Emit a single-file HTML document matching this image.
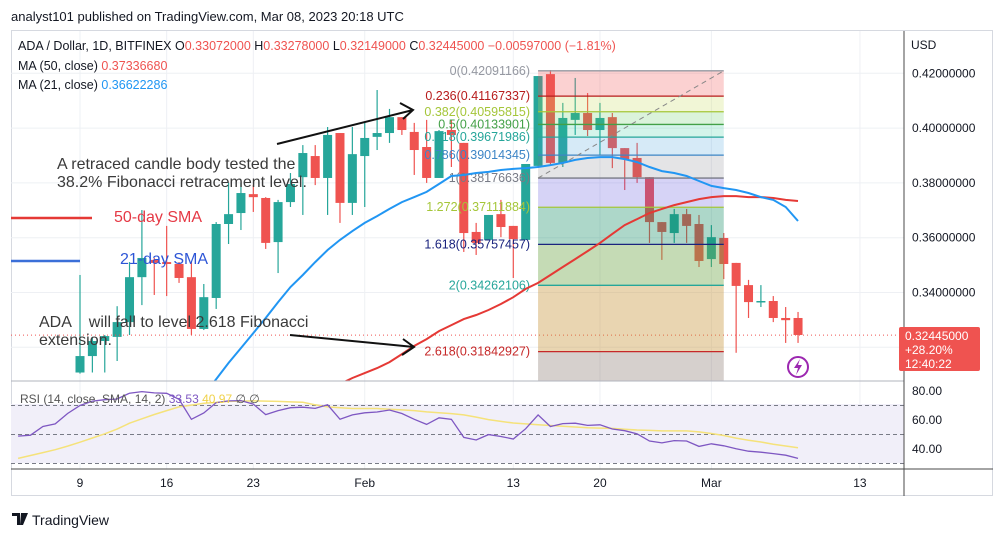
<!DOCTYPE html>
<html><head><meta charset="utf-8">
<style>
html,body{margin:0;padding:0;background:#fff;}
svg{display:block;font-family:"Liberation Sans",sans-serif;}
</style></head>
<body>
<svg id="chart" width="996" height="538" viewBox="0 0 996 538">
<defs>
<clipPath id="mainClip"><rect x="11" y="31" width="893" height="350"/></clipPath>
<clipPath id="rsiClip"><rect x="11" y="382" width="893" height="86"/></clipPath>
</defs>
<rect x="0" y="0" width="996" height="538" fill="#ffffff"/>
<text x="11" y="21" font-size="13" fill="#131722">analyst101 published on TradingView.com, Mar 08, 2023 20:18 UTC</text>
<rect x="11.5" y="30.5" width="981" height="465" fill="none" stroke="#d6d9e0"/>
<g id="grid"></g>
<rect x="11" y="404" width="893" height="59" fill="#f1eff9"/>
<g id="rsiGuides"></g>
<g id="candles" clip-path="url(#mainClip)"></g>
<g id="fib" clip-path="url(#mainClip)"></g>
<g id="mas" clip-path="url(#mainClip)"></g>
<g id="rsi" clip-path="url(#rsiClip)"></g>
<g id="axes"></g>

<text x="18" y="50" font-size="12.5" fill="#131722">ADA / Dollar, 1D, BITFINEX <tspan fill="#131722">O</tspan><tspan fill="#ef5350">0.33072000</tspan> <tspan>H</tspan><tspan fill="#ef5350">0.33278000</tspan> <tspan>L</tspan><tspan fill="#ef5350">0.32149000</tspan> <tspan>C</tspan><tspan fill="#ef5350">0.32445000</tspan> <tspan fill="#ef5350">−0.00597000 (−1.81%)</tspan></text>
<text x="18" y="70" font-size="12.5" fill="#131722">MA (50, close) <tspan fill="#ef5350">0.37336680</tspan></text>
<text x="18" y="89" font-size="12.5" fill="#131722">MA (21, close) <tspan fill="#2196f3">0.36622286</tspan></text>
<text x="911" y="49" font-size="12" fill="#131722">USD</text>

<g id="annot" font-size="16">
<text x="57" y="169" fill="#3a3a3a">A retraced candle body tested the</text>
<text x="57" y="187" fill="#3a3a3a">38.2% Fibonacci retracement level.</text>
<line x1="11" y1="218" x2="92" y2="218" stroke="#e53935" stroke-width="2.5"/>
<text x="114" y="222" fill="#e53945">50-day SMA</text>
<line x1="11" y1="261" x2="80" y2="261" stroke="#3b6fd8" stroke-width="2.5"/>
<text x="120" y="264" fill="#2d55d6">21-day SMA</text>
<text x="39" y="327" fill="#3a3a3a" style="white-space:pre">ADA    will fall to level 2.618 Fibonacci</text>
<text x="39" y="345" fill="#3a3a3a">extension.</text>
<path d="M277 144 L413 110 M400 103 L413 110 L403 119" stroke="#111" stroke-width="2" fill="none"/>
<path d="M290 335 L414 347 M403 339 L414 347 L402 355" stroke="#111" stroke-width="2" fill="none"/>
</g>

<g>
<rect x="899" y="327" width="81" height="44" rx="2" fill="#ef5350"/>
<text x="905" y="340" font-size="12" fill="#fff">0.32445000</text>
<text x="905" y="354" font-size="12" fill="#fff">+28.20%</text>
<text x="905" y="368" font-size="12" fill="#fff">12:40:22</text>
</g>
<g>
<circle cx="798" cy="367" r="10" fill="#fff" stroke="#9c27b0" stroke-width="2"/>
<path d="M800 359 L794 368 L798 368 L796 375 L802 365 L798 365 Z" fill="#9c27b0"/>
</g>

<text x="20" y="403" font-size="12" fill="#555">RSI (14, close, SMA, 14, 2) <tspan fill="#7e57c2">33.53</tspan> <tspan fill="#f0d24a">40.97</tspan> <tspan>∅  ∅</tspan></text>

<g>
<path d="M12 513 h8 v12 h-3 v-9 h-5z M21 513 h7 l-5 12 h-3z" fill="#131722"/>
<text x="32" y="525" font-size="14" fill="#131722">TradingView</text>
</g>
</svg>

<script>
var openP  = [.3108,.3168,.3223,.3238,.3292,.3456,.3519,.3511,.3504,.3456,.3267,.3380,.3650,.3690,.3759,.3745,.3584,.3730,.3821,.3898,.3818,.3982,.3727,.3898,.3968,.3982,.4040,.3986,.3931,.3818,.3993,.3946,.3621,.3592,.3686,.3643,.3592,.3862,.4197,.3873,.4030,.4055,.3993,.4040,.3927,.3891,.3821,.3657,.3617,.3686,.3650,.3522,.3599,.3508,.3427,.3365,.3369,.3307,.3307];
var highP  = [.3464,.3238,.3245,.3350,.3511,.3701,.3526,.3643,.3511,.3511,.3431,.3657,.3800,.3800,.3792,.3748,.3738,.3836,.3938,.3938,.4004,.3982,.4004,.4019,.4139,.4070,.4040,.4019,.4030,.3993,.4030,.3946,.3654,.3683,.3738,.3643,.3869,.4190,.4212,.4092,.4183,.4128,.4092,.4055,.3927,.3946,.3821,.3657,.3705,.3705,.3683,.3646,.3617,.3508,.3446,.3427,.3387,.3347,.3329];
var lowP   = [.3104,.3108,.3108,.3150,.3245,.3354,.3391,.3387,.3435,.3245,.3263,.3340,.3577,.3628,.3694,.3559,.3471,.3712,.3683,.3792,.3683,.3654,.3683,.3712,.3920,.3946,.3975,.3829,.3800,.3818,.3858,.3548,.3537,.3592,.3602,.3453,.3592,.3858,.3865,.3858,.3975,.3971,.3902,.3854,.3774,.3800,.3581,.3519,.3581,.3581,.3493,.3493,.3449,.3180,.3307,.3347,.3292,.3216,.3216];
var closeP = [.3168,.3223,.3241,.3292,.3456,.3526,.3508,.3504,.3453,.3267,.3383,.3650,.3686,.3763,.3748,.3581,.3730,.3796,.3909,.3818,.3975,.3727,.3905,.3964,.3982,.4040,.3993,.3920,.3818,.3989,.3975,.3617,.3581,.3683,.3639,.3595,.3869,.4190,.3873,.4037,.4055,.3993,.4037,.3927,.3887,.3821,.3657,.3621,.3686,.3643,.3515,.3602,.3504,.3424,.3365,.3369,.3307,.3299,.3245];
var ma21Start = 10;
var ma21 = [.3026,.3084,.3143,.3197,.3252,.3307,.3365,.3420,.3464,.3511,.3555,.3592,.3624,.3654,.3679,.3705,.3730,.3748,.3767,.3796,.3825,.3829,.3836,.3840,.3847,.3851,.3854,.3858,.3865,.3873,.3884,.3891,.3894,.3894,.3887,.3876,.3858,.3843,.3836,.3825,.3807,.3789,.3781,.3774,.3763,.3748,.3738,.3712,.3661];
var ma50Start = 21;
var ma50 = [.3066,.3088,.3106,.3124,.3146,.3175,.3205,.3230,.3259,.3281,.3303,.3318,.3336,.3358,.3383,.3413,.3435,.3464,.3493,.3522,.3551,.3581,.3614,.3646,.3668,.3690,.3705,.3719,.3730,.3741,.3748,.3752,.3752,.3748,.3748,.3745,.3738,.3734];
var rsiStart = -5;
var rsiVals = [48.9,49.5,55.5,57.3,64.5,70,73,74,74.5,78.5,79.6,78.7,78.4,74.3,60.5,64.8,72,73.2,73.4,71,63.7,66.5,68.5,68.8,68,70.5,60.5,63.5,65,65.5,66.9,64.5,60.5,57,61.5,60.5,48,46.2,49.9,48.6,46.9,54,63.5,55.5,57.5,57.8,56.3,56.7,53.8,52.6,50.5,45.5,44.2,45.8,45.5,41.8,43.6,42.2,40.2,38.5,37.8,36.8,35.7,33.5];
var rsiSma = [33.5,35.5,37.5,39.5,42,44.7,47.6,50.5,53.7,57.8,60.8,63.8,66.5,69,70.3,71.5,72.1,72.8,73,73.2,73,72.8,72.5,72.2,70.5,69,68.5,67.9,67.9,67.9,67.4,67,66.5,65.6,65,64.4,63.5,62,60.3,59,57.9,57.3,56.7,56.2,55.7,55.2,54.6,54.4,54.2,53.6,53.1,52.8,52.5,52.5,52.5,51.8,50.7,49.3,47.5,46.1,44.8,43.3,42.1,40.8];
var priceTicks = [0.42,0.40,0.38,0.36,0.34,0.32];
var priceTickLabels = ["0.42000000","0.40000000","0.38000000","0.36000000","0.34000000"];
var rsiTicks = [80,60,40];
var rsiTickLabels = ["80.00","60.00","40.00"];
var rsiDashed = [70,50,30];
var dateTicks = [0,7,14,23,35,42,51,63];
var dateLabels = ["9","16","23","Feb","13","20","Mar","13"];
var fibRatios = ["0","0.236","0.382","0.5","0.618","0.786","1","1.272","1.618","2","2.618"];
var fibPrices = [0.42091166,0.41167337,0.40595815,0.40133901,0.39671986,0.39014345,0.38176636,0.37111884,0.35757457,0.34262106,0.31842927];
var fibStartDay = 37, fibEndDay = 52;
var lastPrice = 0.32445;

var NS = "http://www.w3.org/2000/svg";
function xD(d){ return 80 + d*12.38; }
function yP(p){ return 73.3 + (0.42 - p)*2740; }
function yR(v){ return 449 - (v - 40)*1.45; }
function mk(tag, parent, attrs){
  var e = document.createElementNS(NS, tag);
  for (var k in attrs) e.setAttribute(k, attrs[k]);
  document.getElementById(parent).appendChild(e);
  return e;
}

priceTicks.forEach(function(p){
  var e = mk("line","grid",{x1:11,x2:904,y1:yP(p),y2:yP(p),stroke:"#eef0f4"});
  
  
});
dateTicks.forEach(function(d){
  var e = mk("line","grid",{x1:xD(d),x2:xD(d),y1:31,y2:469,stroke:"#eef0f4"});
  
  
});
rsiTicks.slice(1).forEach(function(v){
  var e = mk("line","grid",{x1:11,x2:904,y1:yR(v),y2:yR(v),stroke:"#e4e6ee"});
  
  
});
rsiDashed.forEach(function(v){
  var e = mk("line","rsiGuides",{x1:11,x2:904,y1:yR(v),y2:yR(v),stroke:"#787b86","stroke-dasharray":"4 3"});
  
  
});

for (var i=0;i<closeP.length;i++){
  var up = closeP[i] >= openP[i];
  var col = up ? "#26a69a" : "#ef5350";
  var cx = xD(i);
  var w = mk("line","candles",{x1:cx,x2:cx,y1:yP(highP[i]),y2:yP(lowP[i]),stroke:col,"stroke-width":1.2});
  
  
  var t = yP(Math.max(openP[i],closeP[i])), b = yP(Math.min(openP[i],closeP[i]));
  var r = mk("rect","candles",{x:cx-4.5,y:t,width:9,height:Math.max(1.5,b-t),fill:col});
  
  
}

var lp = mk("line","candles",{x1:11,x2:904,y1:yP(lastPrice),y2:yP(lastPrice),stroke:"#ef5350","stroke-dasharray":"1 3"});



var fibFill = ["rgba(240,90,90,0.28)","rgba(200,220,90,0.25)","rgba(90,200,90,0.22)","rgba(40,200,150,0.2)","rgba(70,160,220,0.22)","rgba(120,120,130,0.2)","rgba(90,80,220,0.25)","rgba(20,140,100,0.35)","rgba(110,165,70,0.4)","rgba(200,150,60,0.4)","rgba(120,100,90,0.3)"];
var fibLine = ["#9598a1","#b71c1c","#a5c639","#43a047","#26a69a","#3d85c6","#787b86","#a5c639","#1a237e","#26a69a","#c62828"];
var fx1 = xD(fibStartDay), fx2 = xD(fibEndDay);
for (var k=0;k<fibPrices.length;k++){
  var yTop = yP(fibPrices[k]);
  var yBot = k+1<fibPrices.length ? yP(fibPrices[k+1]) : 381;
  var band = mk("rect","fib",{x:fx1,y:yTop,width:fx2-fx1,height:yBot-yTop,fill:fibFill[k]});
  
  
}
for (var k=0;k<fibPrices.length;k++){
  var yy = yP(fibPrices[k]);
  var ln = mk("line","fib",{x1:fx1,x2:fx2,y1:yy,y2:yy,stroke:fibLine[k],"stroke-width":1.3});
  
  
  var tx = mk("text","fib",{x:fx1-8,y:yy+4,"font-size":12.5,fill:fibLine[k],"text-anchor":"end"});
  tx.textContent = fibRatios[k] + "(" + fibPrices[k].toFixed(8) + ")";
  
  
}
var diag = mk("line","fib",{x1:fx1,y1:yP(fibPrices[6]),x2:fx2,y2:yP(fibPrices[0]),stroke:"#888","stroke-dasharray":"5 4"});



function pathFrom(arr, start, fy){
  var s = "";
  for (var j=0;j<arr.length;j++){ s += (j?"L":"M") + xD(start+j).toFixed(1) + " " + fy(arr[j]).toFixed(1) + " "; }
  return s;
}
var m50 = mk("path","mas",{d:pathFrom(ma50,ma50Start,yP),fill:"none",stroke:"#e53935","stroke-width":2});


var m21 = mk("path","mas",{d:pathFrom(ma21,ma21Start,yP),fill:"none",stroke:"#2196f3","stroke-width":2});



var rs = mk("path","rsi",{d:pathFrom(rsiSma,rsiStart,yR),fill:"none",stroke:"#f5e27a","stroke-width":1.5});


var rl = mk("path","rsi",{d:pathFrom(rsiVals,rsiStart,yR),fill:"none",stroke:"#7e57c2","stroke-width":1.3});



var sep = [[11,381,904,381,"#b2b5be"],[11,469,993,469,"#4a4a4a"],[904,31,904,496,"#4a4a4a"]];
sep.forEach(function(s){
  var e = mk("line","axes",{x1:s[0],y1:s[1],x2:s[2],y2:s[3],stroke:s[4]});
  
  
});
priceTickLabels.forEach(function(lbl,i){
  var e = mk("text","axes",{x:912,y:yP(priceTicks[i])+4,"font-size":12,fill:"#131722"});
  e.textContent = lbl;
  
  
});
rsiTickLabels.forEach(function(lbl,i){
  var e = mk("text","axes",{x:912,y:yR(rsiTicks[i])+4,"font-size":12,fill:"#131722"});
  e.textContent = lbl;
  
  
});
dateLabels.forEach(function(lbl,i){
  var e = mk("text","axes",{x:xD(dateTicks[i]),y:487,"font-size":12,fill:"#131722","text-anchor":"middle"});
  e.textContent = lbl;
  
  
});
// keep annotations on top of chart marks
var svg = document.getElementById('chart');
svg.appendChild(document.getElementById('annot'));
</script>
</body></html>
